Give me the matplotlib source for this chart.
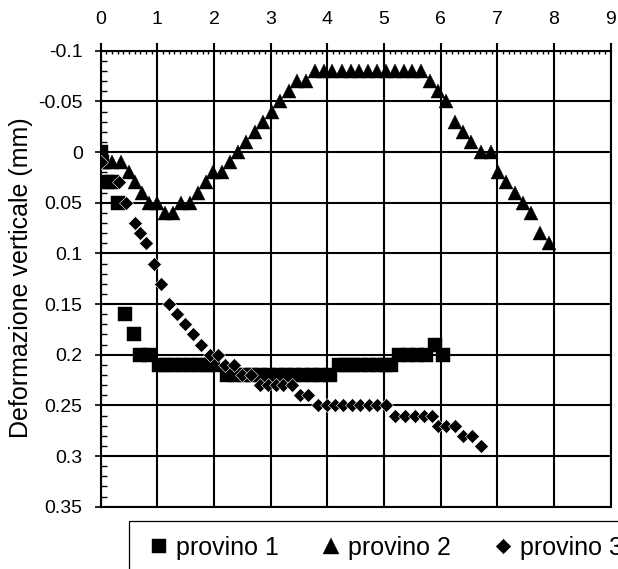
import matplotlib
matplotlib.use("Agg")
import matplotlib.pyplot as plt
from matplotlib.ticker import MultipleLocator, FuncFormatter

plt.rcParams['font.family'] = ['Liberation Sans', 'DejaVu Sans']
plt.rcParams['axes.unicode_minus'] = False

# provino 1 (squares)
x1 = [0.0, 0.02, 0.12, 0.2, 0.3, 0.43, 0.58, 0.7, 0.85,
      1.02, 1.16, 1.3, 1.44, 1.58, 1.72, 1.86, 1.98,
      2.22, 2.37, 2.52, 2.67, 2.82, 2.97, 3.12, 3.27, 3.42, 3.57, 3.72, 3.87, 4.04,
      4.2, 4.33, 4.46, 4.6, 4.74, 4.88, 5.01, 5.13,
      5.26, 5.42, 5.58, 5.74, 5.9, 6.04]
y1 = [0.0, 0.01, 0.03, 0.03, 0.05, 0.16, 0.18, 0.2, 0.2,
      0.21, 0.21, 0.21, 0.21, 0.21, 0.21, 0.21, 0.21,
      0.22, 0.22, 0.22, 0.22, 0.22, 0.22, 0.22, 0.22, 0.22, 0.22, 0.22, 0.22, 0.22,
      0.21, 0.21, 0.21, 0.21, 0.21, 0.21, 0.21, 0.21,
      0.2, 0.2, 0.2, 0.2, 0.19, 0.2]

# provino 2 (triangles)
x2 = [0.07, 0.2, 0.36, 0.5, 0.6, 0.72, 0.86, 0.99, 1.13, 1.27, 1.42, 1.58,
      1.72, 1.86, 1.99, 2.14, 2.28, 2.43, 2.57, 2.72, 2.87, 3.02, 3.16, 3.33,
      3.47, 3.62, 3.78, 3.94, 4.09, 4.25, 4.41, 4.56, 4.72, 4.88, 5.03, 5.19,
      5.35, 5.5, 5.66, 5.81, 5.95, 6.1, 6.25, 6.39, 6.54, 6.72, 6.88, 7.01,
      7.16, 7.31, 7.45, 7.6, 7.75, 7.91]
y2 = [0.01, 0.01, 0.01, 0.02, 0.03, 0.04, 0.05, 0.05, 0.06, 0.06, 0.05, 0.05,
      0.04, 0.03, 0.02, 0.02, 0.01, 0.0, -0.01, -0.02, -0.03, -0.04, -0.05, -0.06,
      -0.07, -0.07, -0.08, -0.08, -0.08, -0.08, -0.08, -0.08, -0.08, -0.08, -0.08, -0.08,
      -0.08, -0.08, -0.08, -0.07, -0.06, -0.05, -0.03, -0.02, -0.01, 0.0, 0.0, 0.02,
      0.03, 0.04, 0.05, 0.06, 0.08, 0.09]

# provino 3 (diamonds)
x3 = [0.0, 0.33, 0.45, 0.6, 0.7, 0.8, 0.94, 1.07, 1.2, 1.34, 1.49, 1.63, 1.77,
      1.93, 2.07, 2.2, 2.35, 2.5, 2.65, 2.81, 2.95, 3.1, 3.22, 3.37, 3.51, 3.66,
      3.84, 3.99, 4.14, 4.28, 4.43, 4.58, 4.73, 4.88, 5.03,
      5.19, 5.37, 5.54, 5.7, 5.84, 5.95, 6.1, 6.25, 6.4, 6.56, 6.72]
y3 = [0.01, 0.03, 0.05, 0.07, 0.08, 0.09, 0.11, 0.13, 0.15, 0.16, 0.17, 0.18, 0.19,
      0.2, 0.2, 0.21, 0.21, 0.22, 0.22, 0.23, 0.23, 0.23, 0.23, 0.23, 0.24, 0.24,
      0.25, 0.25, 0.25, 0.25, 0.25, 0.25, 0.25, 0.25, 0.25,
      0.26, 0.26, 0.26, 0.26, 0.26, 0.27, 0.27, 0.27, 0.28, 0.28, 0.29]

labels = ["provino 1", "provino 2", "provino 3"]
x_ticks = [0, 1, 2, 3, 4, 5, 6, 7, 8, 9]
y_ticks = [-0.1, -0.05, 0, 0.05, 0.1, 0.15, 0.2, 0.25, 0.3, 0.35]

W, H = 618, 569
fig = plt.figure(figsize=(W / 100, H / 100), dpi=100)
ax = fig.add_axes([100.7 / W, 1 - 506.7 / H, 510 / W, 456 / H])

ax.plot(x1, y1, linestyle='none', marker='s', ms=9.8, color='black',
        mec='black', mew=0.3, label=labels[0], zorder=3)
ax.plot(x2, y2, linestyle='none', marker='^', ms=10, color='black',
        mec='black', mew=0.3, label=labels[1], zorder=3)
ax.plot(x3, y3, linestyle='none', marker='D', ms=7.3, color='black',
        mec='white', mew=0.4, label=labels[2], zorder=3)

ax.set_xlim(0, 9)
ax.set_ylim(0.35, -0.1)
ax.set_xticks(x_ticks)
ax.set_yticks(y_ticks)
ax.xaxis.set_minor_locator(MultipleLocator(0.1))
ax.yaxis.set_minor_locator(MultipleLocator(0.01))
ax.yaxis.set_major_formatter(FuncFormatter(lambda v, p: '0' if abs(v) < 1e-9 else '%g' % round(v, 3)))
ax.xaxis.set_major_formatter(FuncFormatter(lambda v, p: '%d' % round(v)))

ax.xaxis.tick_top()
ax.tick_params(axis='x', which='major', direction='out', length=6, width=1.5,
               labelsize=14, pad=10.5, colors='black')
ax.tick_params(axis='x', which='minor', direction='in', length=2.5, width=1,
               top=True, bottom=False)
ax.tick_params(axis='y', which='major', direction='out', length=4, width=1.2,
               labelsize=14, pad=9)
ax.tick_params(axis='y', which='minor', direction='in', length=4.3, width=1)

ax.grid(True, which='major', color='black', linewidth=1.5, zorder=1)
ax.set_axisbelow(True)
for s in ax.spines.values():
    s.set_linewidth(1.5)
    s.set_color('black')

ax.set_ylabel("Deformazione verticale (mm)", fontsize=18)
ax.yaxis.set_label_coords(-68.0 / 510, 0.5 + (278.7 - 278.0) / 456)

leg = fig.legend(loc='upper left', bbox_to_anchor=(129 / W, 1 - 521 / H),
                 bbox_transform=fig.transFigure, ncol=3, fontsize=18,
                 frameon=True, fancybox=False, shadow=False, framealpha=1,
                 edgecolor='black', borderaxespad=0, borderpad=0.6,
                 handlelength=1.2, handletextpad=0.08, columnspacing=1.48,
                 markerscale=1.1)
leg.get_frame().set_linewidth(0.9)

fig.savefig("out.png", dpi=100)
